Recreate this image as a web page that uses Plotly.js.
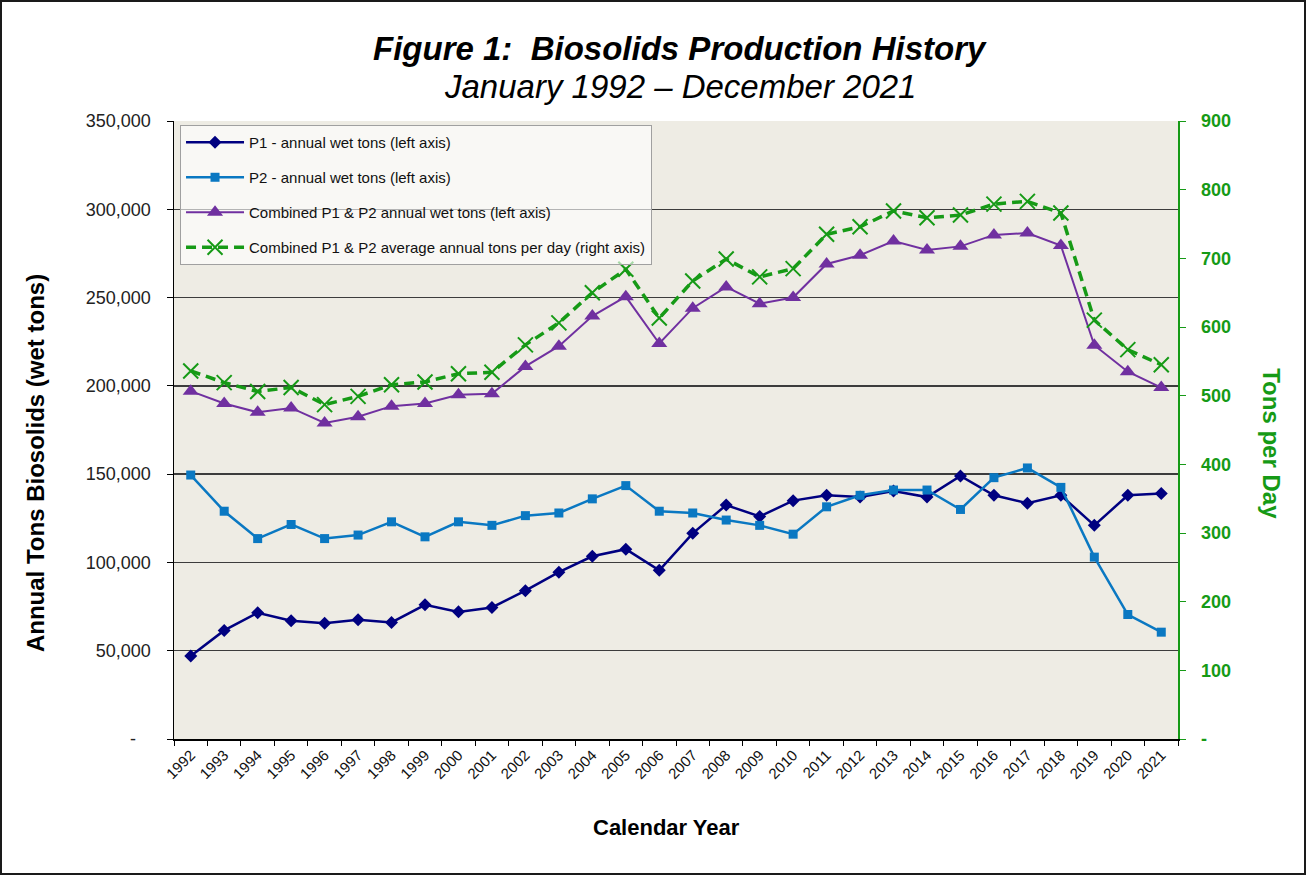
<!DOCTYPE html>
<html>
<head>
<meta charset="utf-8">
<script src="https://cdn.plot.ly/plotly-3.0.1.min.js"></script>
<style>
  html, body { margin: 0; padding: 0; background: #ffffff; }
  #frame { position: absolute; left: 0; top: 0; width: 1306px; height: 875px; box-sizing: border-box; border: 2px solid #1a1a1a; background: #ffffff; }
  #chart { width: 1302px; height: 871px; }
</style>
</head>
<body>
<div id="frame"><div id="chart"></div></div>
<script>
// ---- data ----
const years = ["1992","1993","1994","1995","1996","1997","1998","1999","2000","2001",
               "2002","2003","2004","2005","2006","2007","2008","2009","2010","2011",
               "2012","2013","2014","2015","2016","2017","2018","2019","2020","2021"];

const p1Tons = [47000, 61500, 71500, 67000, 65500, 67500, 66000, 76000, 72000, 74500,
                84000, 94500, 103500, 107500, 95500, 116500, 132500, 126000, 135000, 138000,
                137000, 140500, 137000, 149000, 138000, 133500, 138000, 121000, 138000, 139000];

const p2Tons = [149500, 129000, 113500, 121500, 113500, 115500, 123000, 114500, 123000, 121000,
                126500, 128000, 136000, 143500, 129000, 128000, 124000, 121000, 116000, 131500,
                138000, 141000, 141000, 130000, 148000, 153500, 142500, 103000, 70500, 60500];

const combinedTons = [197000, 190000, 185000, 187500, 179000, 182500, 188500, 190000, 195000, 195500,
                      211000, 222500, 239500, 250500, 224000, 244000, 256000, 246500, 250000, 269000,
                      274000, 282000, 277000, 279000, 285500, 286500, 279500, 223000, 208000, 199000];

const tonsPerDay = [536, 519, 506, 512, 487, 499, 516, 520, 532, 534,
                    574, 606, 650, 684, 613, 667, 699, 673, 685, 735,
                    746, 769, 759, 763, 779, 783, 766, 610, 567, 545];

const leftTickVals = [0, 50000, 100000, 150000, 200000, 250000, 300000, 350000];
const leftTickText = ["-\u00a0\u00a0\u00a0", "50,000", "100,000", "150,000", "200,000", "250,000", "300,000", "350,000"];
const rightTickVals = [0, 100, 200, 300, 400, 500, 600, 700, 800, 900];
const rightTickText = ["-", "100", "200", "300", "400", "500", "600", "700", "800", "900"];

const seriesNames = [
  "P1 - annual wet tons (left axis)",
  "P2 - annual wet tons (left axis)",
  "Combined P1 & P2 annual wet tons (left axis)",
  "Combined P1 & P2 average annual tons per day (right axis)"
];

// ---- styling ----
const FONT = "Liberation Sans, Arial, sans-serif";
const GREEN = "#169a16";

const traces = [
  {
    x: years, y: p1Tons, name: seriesNames[0], legendgroup: "a",
    type: "scatter", mode: "lines+markers",
    line: { color: "#000080", width: 2.5 },
    marker: { symbol: "diamond", size: 10, color: "#000080" }
  },
  {
    x: years, y: p2Tons, name: seriesNames[1], legendgroup: "b",
    type: "scatter", mode: "lines+markers",
    line: { color: "#0a78c2", width: 2.5 },
    marker: { symbol: "square", size: 9, color: "#0a78c2" }
  },
  {
    x: years, y: combinedTons, name: seriesNames[2], legendgroup: "c",
    type: "scatter", mode: "lines+markers",
    line: { color: "#7030a0", width: 2 },
    marker: { symbol: "triangle-up", size: 14, color: "#7030a0" }
  },
  {
    x: years, y: tonsPerDay, name: seriesNames[3], legendgroup: "d",
    type: "scatter", mode: "lines+markers", yaxis: "y2",
    line: { color: GREEN, width: 3.5, dash: "10px,6px" },
    marker: { symbol: "x-thin", size: 15, color: GREEN, line: { color: GREEN, width: 2 } }
  }
];

const layout = {
  width: 1302, height: 871,
  margin: { l: 172, r: 126, t: 119, b: 134 },
  paper_bgcolor: "#ffffff",
  plot_bgcolor: "#eeece4",
  font: { family: FONT, color: "#000000" },
  showlegend: true,
  legend: {
    x: 0.006, y: 0.9935, xanchor: "left", yanchor: "top",
    bgcolor: "rgba(255,255,255,0.62)",
    bordercolor: "#a0a0a0", borderwidth: 1,
    font: { family: FONT, size: 15, color: "#111111" },
    tracegroupgap: 12.5,
    itemwidth: 58
  },
  xaxis: {
    type: "category",
    range: [-0.5, 29.5],
    tickson: "boundaries",
    ticks: "outside", ticklen: 5, tickcolor: "#000000", tickwidth: 1,
    tickangle: -45,
    tickfont: { family: FONT, size: 15, color: "#111111" },
    showline: true, linecolor: "#000000", linewidth: 1.5,
    showgrid: false, zeroline: false,
    fixedrange: true
  },
  yaxis: {
    range: [0, 350000],
    tickvals: leftTickVals, ticktext: leftTickText,
    ticks: "outside", ticklen: 6, tickcolor: "#000000", tickwidth: 1,
    ticklabelstandoff: 12,
    tickfont: { family: FONT, size: 18, color: "#222222" },
    showline: true, linecolor: "#000000", linewidth: 1.5,
    showgrid: true, gridcolor: "#3c3c3c", gridwidth: 1.5,
    zeroline: false
  },
  yaxis2: {
    overlaying: "y", side: "right",
    range: [0, 900],
    tickvals: rightTickVals, ticktext: rightTickText,
    ticks: "outside", ticklen: 6, tickcolor: GREEN, tickwidth: 1,
    ticklabelstandoff: 12,
    tickfont: { family: FONT, size: 18, color: GREEN, weight: "bold" },
    showline: true, linecolor: GREEN, linewidth: 1.5,
    showgrid: false, zeroline: false
  },
  annotations: [
    {
      text: "<b><i>Figure 1:  Biosolids Production History</i></b>",
      xref: "paper", yref: "paper", x: 0.504, y: 1.118,
      xanchor: "center", yanchor: "middle", showarrow: false,
      font: { family: FONT, size: 33, color: "#000000" }
    },
    {
      text: "<i>January 1992 \u2013 December 2021</i>",
      xref: "paper", yref: "paper", x: 0.504, y: 1.0566,
      xanchor: "center", yanchor: "middle", showarrow: false,
      font: { family: FONT, size: 33, color: "#000000" }
    },
    {
      text: "<b>Annual Tons Biosolids (wet tons)</b>",
      xref: "paper", yref: "paper", x: -0.1384, y: 0.4466,
      xanchor: "center", yanchor: "middle", showarrow: false, textangle: -90,
      font: { family: FONT, size: 24, color: "#000000" }
    },
    {
      text: "<b>Tons per Day</b>",
      xref: "paper", yref: "paper", x: 1.0936, y: 0.477,
      xanchor: "center", yanchor: "middle", showarrow: false, textangle: 90,
      font: { family: FONT, size: 24, color: GREEN }
    },
    {
      text: "<b>Calendar Year</b>",
      xref: "paper", yref: "paper", x: 0.491, y: -0.144,
      xanchor: "center", yanchor: "middle", showarrow: false,
      font: { family: FONT, size: 22, color: "#000000" }
    }
  ]
};

Plotly.newPlot("chart", traces, layout, { displayModeBar: false, staticPlot: true });
</script>
</body>
</html>
